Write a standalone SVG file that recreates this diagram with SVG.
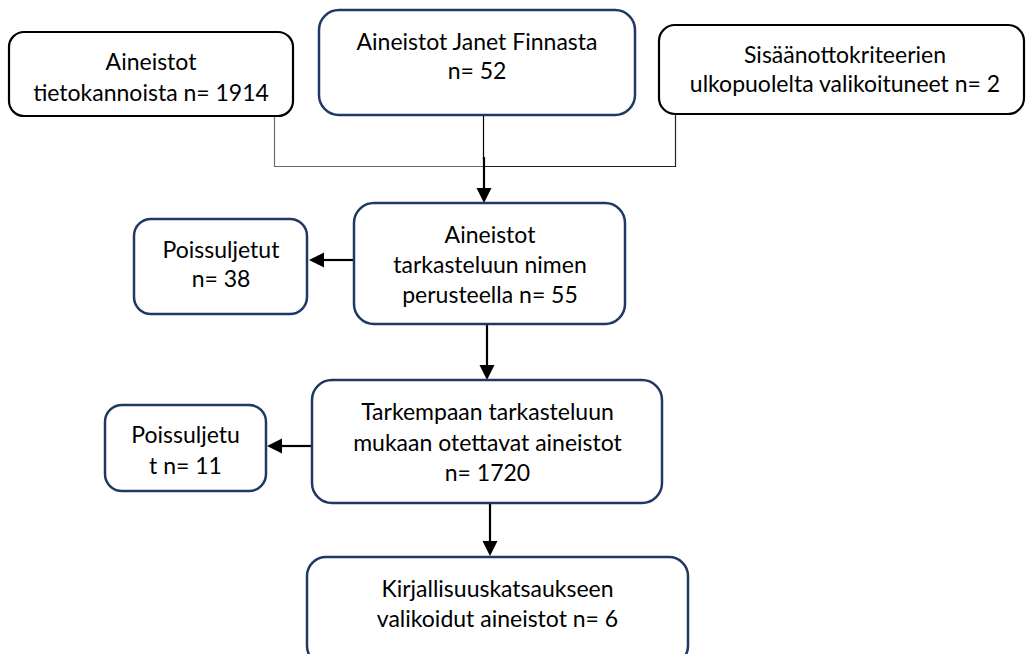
<svg xmlns="http://www.w3.org/2000/svg" width="1029" height="654" viewBox="0 0 1029 654">
<style>
.bk{fill:#fff;stroke:#000;stroke-width:2.2}
.nv{fill:#fff;stroke:#1f3864;stroke-width:2.5}
text{font-family:Lato,"Open Sans",sans-serif;font-size:23px;fill:#000;text-anchor:middle}
.thin{fill:none;stroke-width:1.2}
.arr{fill:none;stroke:#000;stroke-width:2.2}
</style>
<rect width="1029" height="654" fill="#fff"/>
<g id="connectors">
<polyline class="thin" stroke="#6b6b6b" points="274.5,116 274.5,166.5 508,166.5"/>
<polyline class="thin" stroke="#222" points="675.5,114 675.5,166.5 483,166.5"/>
<line class="thin" stroke="#000" x1="483.5" y1="115" x2="483.5" y2="160"/>
<path d="M484,157 V188" class="arr"/>
<path d="M476.5,188 L491.5,188 L484,203 Z" fill="#000"/>
<path d="M354,260 H323" class="arr"/>
<path d="M324,252.5 L324,267.5 L309,260 Z" fill="#000"/>
<path d="M487,324 V365" class="arr"/>
<path d="M479.5,365 L494.5,365 L487,380 Z" fill="#000"/>
<path d="M312,446 H281" class="arr"/>
<path d="M282,438.5 L282,453.5 L267,446 Z" fill="#000"/>
<path d="M490,503 V541" class="arr"/>
<path d="M482.5,541 L497.5,541 L490,556 Z" fill="#000"/>
</g>
<g id="n1">
<rect class="bk" x="9" y="32" width="284" height="84" rx="15"/>
<text x="151" y="70">Aineistot</text>
<text x="151" y="101">tietokannoista n= 1914</text>
</g>
<g id="n2">
<rect class="nv" x="319" y="10" width="316" height="105" rx="20"/>
<text x="477" y="50">Aineistot Janet Finnasta</text>
<text x="477" y="79">n= 52</text>
</g>
<g id="n3">
<rect class="bk" x="659" y="25" width="365" height="89" rx="16"/>
<text x="845" y="63">Sisäänottokriteerien</text>
<text x="845" y="92">ulkopuolelta valikoituneet n= 2</text>
</g>
<g id="n4">
<rect class="nv" x="354" y="203" width="271" height="121" rx="20"/>
<text x="490" y="243">Aineistot</text>
<text x="490" y="273">tarkasteluun nimen</text>
<text x="490" y="303">perusteella n= 55</text>
</g>
<g id="n5">
<rect class="nv" x="134" y="219" width="173" height="95" rx="17"/>
<text x="221" y="258">Poissuljetut</text>
<text x="221" y="287">n= 38</text>
</g>
<g id="n6">
<rect class="nv" x="312" y="380" width="350" height="123" rx="20"/>
<text x="487.5" y="420">Tarkempaan tarkasteluun</text>
<text x="487.5" y="451">mukaan otettavat aineistot</text>
<text x="487.5" y="481">n= 1720</text>
</g>
<g id="n7">
<rect class="nv" x="105" y="405" width="161" height="86" rx="17"/>
<text x="185.5" y="443">Poissuljetu</text>
<text x="185.5" y="474">t n= 11</text>
</g>
<g id="n8">
<rect class="nv" x="307" y="557" width="381" height="108" rx="19"/>
<text x="497.5" y="597">Kirjallisuuskatsaukseen</text>
<text x="497.5" y="627">valikoidut aineistot n= 6</text>
</g>
</svg>
